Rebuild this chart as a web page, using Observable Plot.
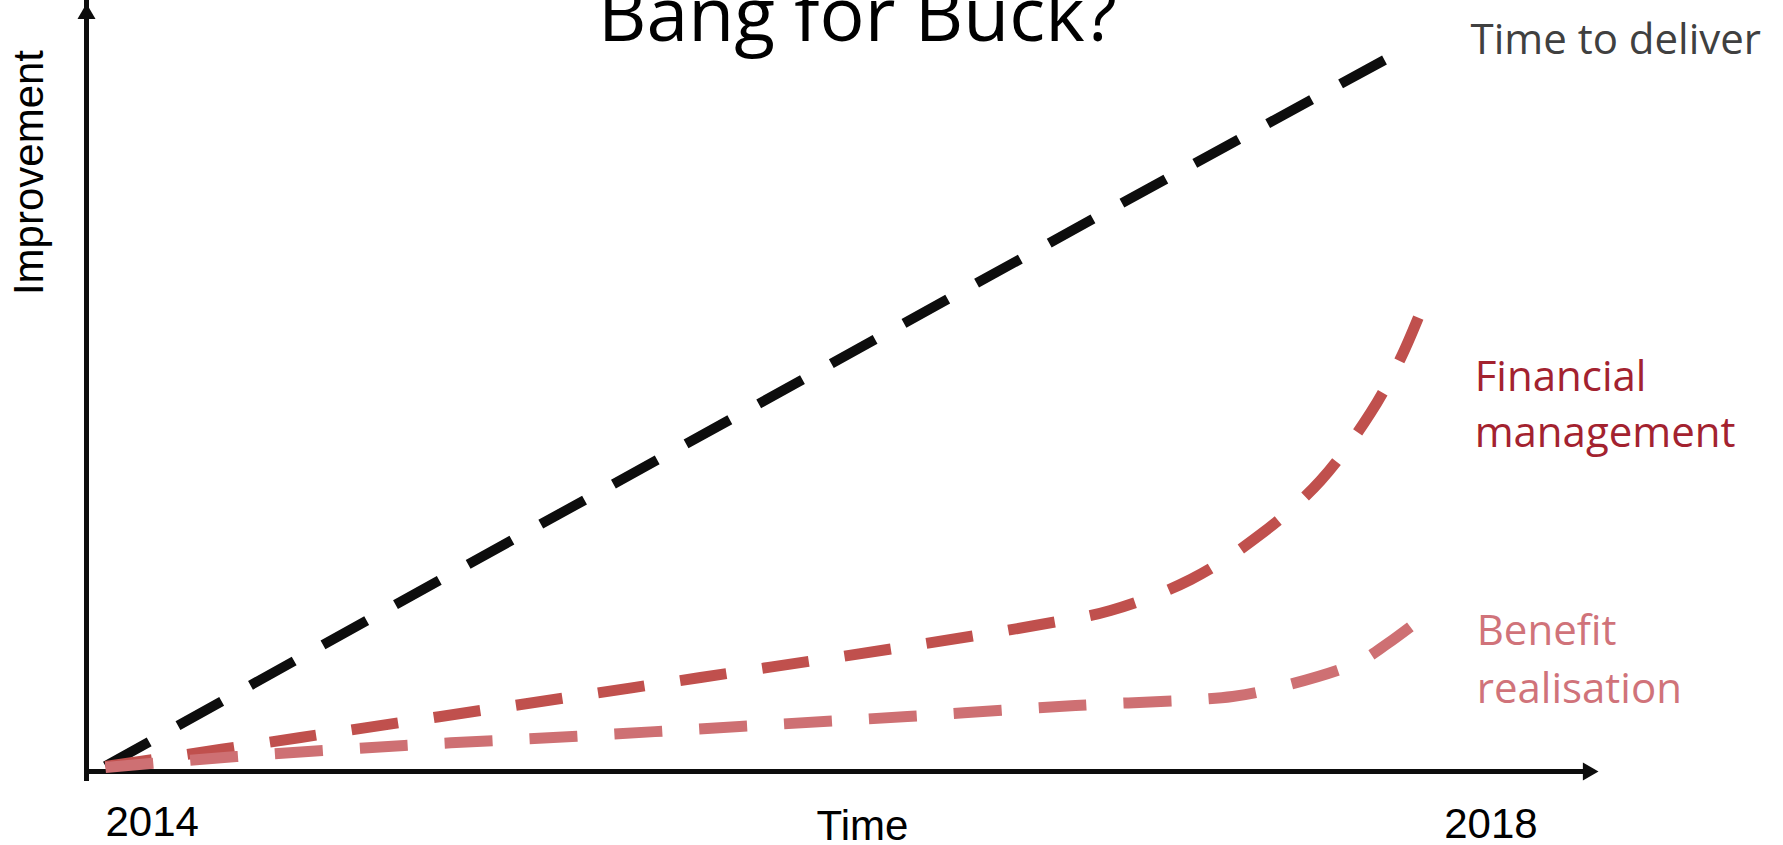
<!DOCTYPE html>
<html>
<head>
<meta charset="utf-8">
<script src="https://cdn.jsdelivr.net/npm/d3@7"></script>
<script src="https://cdn.jsdelivr.net/npm/@observablehq/plot@0.6"></script>
<style>
  html, body { margin: 0; padding: 0; background: #fff; overflow: hidden; }
  #chart svg { overflow: visible; display: block; }
</style>
</head>
<body>
<div id="chart"></div>
<script>
// ---- Data ----
const title = "Bang for Buck?";
const xAxisLabel = "Time";
const yAxisLabel = "Improvement";
const tickYears = [2014, 2018];
const tickLabels = ["2014", "2018"];

const seriesNames = ["Time to deliver", "Financial management", "Benefit realisation"];

const deliverX = [2014.0, 2014.824, 2015.802, 2016.779, 2017.606];
const deliverY = [0.7, 22.1, 47.3, 72.5, 93.5];

const financeX = [2014.0, 2014.545, 2015.103, 2015.662, 2016.221, 2016.612, 2016.807, 2017.031, 2017.226, 2017.394, 2017.534, 2017.617, 2017.676];
const financeY = [0.65, 4.43, 8.33, 12.24, 16.15, 19.14, 20.96, 25.0, 30.86, 37.89, 46.74, 53.78, 60.16];

const benefitX = [2014.0, 2014.366, 2014.835, 2015.304, 2015.771, 2016.240, 2016.709, 2017.148, 2017.274, 2017.497, 2017.581, 2017.693];
const benefitY = [0.52, 1.95, 3.39, 4.56, 5.86, 7.16, 8.59, 9.77, 10.94, 14.19, 16.67, 20.57];

// ---- Build tables ----
const toRows = (xs, ys) => xs.map((x, i) => ({x, y: ys[i]}));
const deliver = toRows(deliverX, deliverY);
const finance = toRows(financeX, financeY);
const benefit = toRows(benefitX, benefitY);
const last = (a) => a[a.length - 1];
const ticks = tickYears.map((yr, i) => ({yr, label: tickLabels[i]}));

const xDomain = [2013.947, 2018.170];
const yDomain = [0, 100];

const axisColor = "#0d0d0d";
const calibriLike = "'Open Sans', sans-serif";
const arialLike = "'Liberation Sans', Arial, sans-serif";

const chart = Plot.plot({
  width: 1783,
  height: 845,
  marginTop: 3,
  marginRight: 185,
  marginBottom: 74,
  marginLeft: 86,
  x: {domain: xDomain, axis: null},
  y: {domain: yDomain, axis: null},
  marks: [
    // axes with arrowheads
    Plot.ruleY([yDomain[0]], {x1: xDomain[0], x2: xDomain[1], stroke: axisColor, strokeWidth: 5, insetRight: 10}),
    Plot.ruleX([xDomain[0]], {y1: yDomain[0], y2: yDomain[1], stroke: axisColor, strokeWidth: 5, insetTop: 10, insetBottom: 6}),
    Plot.dot([0], {x: () => xDomain[1], y: () => yDomain[0], symbol: "triangle", r: 6.7, rotate: 90, fill: axisColor, stroke: "none", dx: -10.4}),
    Plot.dot([0], {x: () => xDomain[0], y: () => yDomain[1], symbol: "triangle", r: 6.7, fill: axisColor, stroke: "none", dy: 10.4}),

    // series lines
    Plot.line(deliver, {x: "x", y: "y", stroke: "#0d0d0d", strokeWidth: 10, strokeDasharray: "50,33", strokeLinecap: "butt"}),
    Plot.line(finance, {x: "x", y: "y", stroke: "#c0504d", strokeWidth: 11, strokeDasharray: "47,36", strokeLinecap: "butt", curve: "catmull-rom"}),
    Plot.line(benefit, {x: "x", y: "y", stroke: "#ce7073", strokeWidth: 11, strokeDasharray: "48,37", strokeLinecap: "butt", curve: "catmull-rom"}),

    // series labels
    Plot.text([last(deliver)], {x: "x", y: "y", text: () => seriesNames[0], textAnchor: "start", lineAnchor: "top", dx: 74, dy: -29, fontSize: 42, fontFamily: calibriLike, fill: "#404040"}),
    Plot.text([last(finance)], {x: "x", y: "y", text: () => "Financial\nmanagement", textAnchor: "start", lineAnchor: "top", lineHeight: 1.33, dx: 53, dy: 42, fontSize: 42, fontFamily: calibriLike, fill: "#a3222f"}),
    Plot.text([last(benefit)], {x: "x", y: "y", text: () => "Benefit\nrealisation", textAnchor: "start", lineAnchor: "top", lineHeight: 1.37, dx: 49, dy: -9, fontSize: 42, fontFamily: calibriLike, fill: "#d0737a"}),

    // tick labels
    Plot.text(ticks.slice(0, 1), {x: "yr", text: "label", frameAnchor: "bottom", textAnchor: "start", lineAnchor: "top", dy: 35, fontSize: 42, fontFamily: arialLike, fill: "#000"}),
    Plot.text(ticks.slice(1), {x: "yr", text: "label", frameAnchor: "bottom", textAnchor: "end", lineAnchor: "top", dy: 37, fontSize: 42, fontFamily: arialLike, fill: "#000"}),

    // axis labels
    Plot.text([xAxisLabel], {frameAnchor: "bottom", textAnchor: "middle", lineAnchor: "top", dx: 20, dy: 39, fontSize: 42, fontFamily: arialLike, fill: "#000"}),
    Plot.text([yAxisLabel], {frameAnchor: "top-left", rotate: -90, textAnchor: "middle", lineAnchor: "middle", dx: -57, dy: 169, fontSize: 42, fontFamily: arialLike, fill: "#000"}),

    // title
    Plot.text([title], {frameAnchor: "top", textAnchor: "middle", lineAnchor: "top", dx: 15, dy: -16, fontSize: 75, fontFamily: calibriLike, fill: "#000"})
  ]
});

document.getElementById("chart").appendChild(chart);
</script>
</body>
</html>
